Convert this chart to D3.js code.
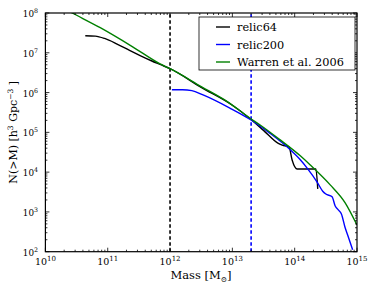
<!DOCTYPE html>
<html>
<head>
<meta charset="utf-8">
<script src="https://cdn.jsdelivr.net/npm/d3@7"></script>
<style>
  body { margin: 0; background: #fff; }
  text { font-family: "DejaVu Serif", serif; fill: #000; }
</style>
</head>
<body>
<svg width="374" height="288"></svg>
<script>
// values, as log10(M) and log10(N(>M))
var warrenLogM = [10.0, 10.43, 10.88, 11.4, 11.84, 12.0, 12.5, 12.96, 13.28, 13.44, 13.75, 14.09, 14.25, 14.57, 14.81, 15.0];
var warrenLogN = [8.36, 8.0, 7.63, 7.15, 6.72, 6.6, 6.15, 5.73, 5.36, 5.19, 4.83, 4.41, 4.18, 3.68, 3.23, 2.67];

var relic64LogM = [10.64, 10.8, 10.95, 11.15, 11.35, 11.52, 11.7, 11.85, 12.0, 12.5, 13.0, 13.28, 13.5, 13.73, 13.8, 13.91, 13.96, 14.04, 14.34, 14.37];
var relic64LogN = [7.43, 7.42, 7.36, 7.22, 7.06, 6.93, 6.8, 6.7, 6.6, 6.13, 5.68, 5.35, 5.05, 4.73, 4.68, 4.63, 4.3, 4.08, 4.08, 3.58];

var relic200LogM = [12.03, 12.2, 12.35, 12.53, 12.96, 13.28, 13.6, 13.93, 14.09, 14.2, 14.36, 14.45, 14.5, 14.6, 14.65, 14.7, 14.75, 14.81, 14.85, 14.93];
var relic200LogN = [6.07, 6.07, 6.05, 5.94, 5.61, 5.33, 4.98, 4.56, 4.31, 4.1, 3.75, 3.52, 3.45, 3.38, 3.15, 3.05, 2.95, 2.6, 2.42, 2.05];

var cutLines = [{ m: 1e12, color: '#000' }, { m: 2e13, color: '#0000ff' }];

var xDecades = [10, 11, 12, 13, 14, 15];
var yDecades = [2, 3, 4, 5, 6, 7, 8];

var legendNames = ['relic64', 'relic200', 'Warren et al. 2006'];
var legendColors = ['#000', '#0000ff', '#008000'];

var svg = d3.select('svg');
var pLeft = 45.4, pRight = 357, pTop = 13, pBottom = 251.7;

var x = d3.scaleLog().domain([1e10, 1e15]).range([pLeft, pRight]);
var y = d3.scaleLog().domain([1e2, 1e8]).range([pBottom, pTop]);

var toPoints = function(lm, ln) {
  return lm.map(function(v, i) { return [Math.pow(10, v), Math.pow(10, ln[i])]; });
};

svg.append('clipPath').attr('id', 'plot')
  .append('rect').attr('x', pLeft).attr('y', pTop)
  .attr('width', pRight - pLeft).attr('height', pBottom - pTop);

var line = d3.line()
  .x(function(d) { return x(d[0]); })
  .y(function(d) { return y(d[1]); })
  .curve(d3.curveMonotoneX);

var g = svg.append('g').attr('clip-path', 'url(#plot)');

g.selectAll('line.cut')
  .data(cutLines)
  .enter().append('line')
  .attr('class', 'cut')
  .attr('x1', function(d) { return x(d.m); })
  .attr('x2', function(d) { return x(d.m); })
  .attr('y1', pBottom).attr('y2', pTop)
  .attr('stroke', function(d) { return d.color; })
  .attr('stroke-width', 1.6)
  .attr('stroke-dasharray', '3.5,2.5');

var series = [
  { pts: toPoints(relic64LogM, relic64LogN), color: '#000' },
  { pts: toPoints(relic200LogM, relic200LogN), color: '#0000ff' },
  { pts: toPoints(warrenLogM, warrenLogN), color: '#008000' }
];

g.selectAll('path.series')
  .data(series)
  .enter().append('path')
  .attr('class', 'series')
  .attr('d', function(d) { return line(d.pts); })
  .attr('fill', 'none')
  .attr('stroke', function(d) { return d.color; })
  .attr('stroke-width', 1.4);

// minor ticks
var minorX = [], minorY = [];
xDecades.slice(0, -1).forEach(function(e) {
  d3.range(2, 10).forEach(function(k) { minorX.push(k * Math.pow(10, e)); });
});
yDecades.slice(0, -1).forEach(function(e) {
  d3.range(2, 10).forEach(function(k) { minorY.push(k * Math.pow(10, e)); });
});

var ticks = svg.append('g').attr('stroke', '#000').attr('stroke-width', 0.8);
var addX = function(vals, len) {
  vals.forEach(function(v) {
    ticks.append('line').attr('x1', x(v)).attr('x2', x(v)).attr('y1', pBottom).attr('y2', pBottom - len);
    ticks.append('line').attr('x1', x(v)).attr('x2', x(v)).attr('y1', pTop).attr('y2', pTop + len);
  });
};
var addY = function(vals, len) {
  vals.forEach(function(v) {
    ticks.append('line').attr('y1', y(v)).attr('y2', y(v)).attr('x1', pLeft).attr('x2', pLeft + len);
    ticks.append('line').attr('y1', y(v)).attr('y2', y(v)).attr('x1', pRight).attr('x2', pRight - len);
  });
};
addX(minorX, 2);
addY(minorY, 2);
addX(xDecades.map(function(e) { return Math.pow(10, e); }), 4);
addY(yDecades.map(function(e) { return Math.pow(10, e); }), 4);

svg.append('rect')
  .attr('x', pLeft).attr('y', pTop)
  .attr('width', pRight - pLeft).attr('height', pBottom - pTop)
  .attr('fill', 'none').attr('stroke', '#000').attr('stroke-width', 1.2);

// tick labels
var xl = svg.selectAll('text.xl')
  .data(xDecades)
  .enter().append('text')
  .attr('class', 'xl')
  .attr('x', function(d) { return x(Math.pow(10, d)); })
  .attr('y', 265)
  .attr('text-anchor', 'middle')
  .style('font-size', '9.5px');
xl.append('tspan').text('10');
xl.append('tspan').attr('dy', -4.5).style('font-size', '7px').text(function(d) { return d; });

var yl = svg.selectAll('text.yl')
  .data(yDecades)
  .enter().append('text')
  .attr('class', 'yl')
  .attr('x', 38)
  .attr('y', function(d) { return y(Math.pow(10, d)) + 4; })
  .attr('text-anchor', 'end')
  .style('font-size', '8.8px');
yl.append('tspan').text('10');
yl.append('tspan').attr('dy', -4).style('font-size', '6.3px').text(function(d) { return d; });

// axis titles
var xt = svg.append('text')
  .attr('x', 201).attr('y', 279)
  .attr('text-anchor', 'middle')
  .style('font-size', '11.5px');
xt.append('tspan').text('Mass [M');
xt.append('tspan').attr('dy', 3).style('font-size', '7.5px').text('\u2299');
xt.append('tspan').attr('dy', -3).text(']');

var yt = svg.append('text')
  .attr('transform', 'translate(17,' + ((pTop + pBottom) / 2) + ') rotate(-90)')
  .attr('text-anchor', 'middle')
  .style('font-size', '11px');
yt.append('tspan').text('N(>M) [h');
yt.append('tspan').attr('dy', -4.5).style('font-size', '7.5px').text('3');
yt.append('tspan').attr('dy', 4.5).text(' Gpc');
yt.append('tspan').attr('dy', -4.5).style('font-size', '7.5px').text('\u22123');
yt.append('tspan').attr('dy', 4.5).text(' ]');

// legend
var lg = svg.append('g');
lg.append('rect')
  .attr('x', 199).attr('y', 17).attr('width', 156).attr('height', 53)
  .attr('fill', '#fff').attr('stroke', '#000').attr('stroke-width', 0.8);
var items = lg.selectAll('g.item')
  .data(legendNames)
  .enter().append('g')
  .attr('class', 'item')
  .attr('transform', function(d, i) { return 'translate(0,' + (27 + i * 17.5) + ')'; });
items.append('line')
  .attr('x1', 216).attr('x2', 230).attr('y1', 0).attr('y2', 0)
  .attr('stroke', function(d, i) { return legendColors[i]; })
  .attr('stroke-width', 1.4);
items.append('text')
  .attr('x', 237).attr('y', 4)
  .style('font-size', '11.3px')
  .text(function(d) { return d; });
</script>
</body>
</html>
